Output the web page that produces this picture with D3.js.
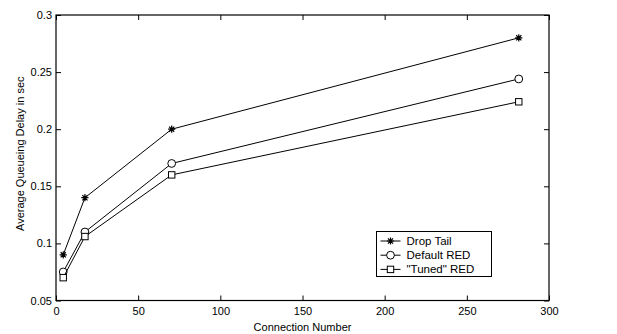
<!DOCTYPE html>
<html>
<head>
<meta charset="utf-8">
<script src="https://cdn.jsdelivr.net/npm/d3@7"></script>
<style>
  html, body { margin: 0; padding: 0; background: #fff; }
  svg { display: block; }
  text { font-family: "Liberation Sans", Arial, sans-serif; fill: #000; }
</style>
</head>
<body>
<script>
// Connection counts (x positions) and average queueing delay per scheme
const connections = [4.4, 17.6, 70.4, 281.6];
const dropTail   = [0.09, 0.14, 0.2, 0.28];
const defaultRED = [0.075, 0.11, 0.17, 0.244];
const tunedRED   = [0.07, 0.106, 0.16, 0.224];
const seriesNames = ["Drop Tail", "Default RED", "\"Tuned\" RED"];
const seriesMarkers = ["star", "circle", "square"];
const xTicks = [0, 50, 100, 150, 200, 250, 300];
const yTicks = [0.05, 0.1, 0.15, 0.2, 0.25, 0.3];
const xLabel = "Connection Number";
const yLabel = "Average Queueing Delay in sec";

const W = 617, H = 334;
const plot = { left: 56, top: 15, right: 549, bottom: 300.5 };

const svg = d3.select("body").append("svg").attr("width", W).attr("height", H);

const x = d3.scaleLinear().domain([0, 300]).range([plot.left, plot.right]);
const y = d3.scaleLinear().domain([0.05, 0.3]).range([plot.bottom, plot.top]);

const tickLen = 5;
const fmtY = d => d3.format("")(+d.toFixed(2));

// Axes with inward ticks on all four sides
svg.append("g").attr("transform", `translate(0,${plot.bottom})`)
  .call(d3.axisBottom(x).tickValues(xTicks).tickSize(-tickLen).tickPadding(7).tickFormat(d3.format("d")));
svg.append("g").attr("transform", `translate(0,${plot.top})`)
  .call(d3.axisTop(x).tickValues(xTicks).tickSize(-tickLen).tickFormat(""));
svg.append("g").attr("transform", `translate(${plot.left},0)`)
  .call(d3.axisLeft(y).tickValues(yTicks).tickSize(-tickLen).tickPadding(4).tickFormat(fmtY));
svg.append("g").attr("transform", `translate(${plot.right},0)`)
  .call(d3.axisRight(y).tickValues(yTicks).tickSize(-tickLen).tickFormat(""));

svg.selectAll(".domain").remove();
svg.selectAll(".tick line").attr("stroke", "#000").attr("stroke-width", 1);
svg.selectAll(".tick text").attr("font-size", 11).attr("font-family", "Liberation Sans, Arial, sans-serif");

svg.append("rect")
  .attr("x", plot.left).attr("y", plot.top)
  .attr("width", plot.right - plot.left).attr("height", plot.bottom - plot.top)
  .attr("fill", "none").attr("stroke", "#000").attr("stroke-width", 1.2);

// Axis titles
svg.append("text")
  .attr("x", (plot.left + plot.right) / 2).attr("y", 331)
  .attr("text-anchor", "middle").attr("font-size", 11).text(xLabel);
svg.append("text")
  .attr("transform", `translate(24,${(plot.top + plot.bottom) / 2 - 4}) rotate(-90)`)
  .attr("text-anchor", "middle").attr("font-size", 11).text(yLabel);

// Marker drawing
function drawMarker(g, type, cx, cy) {
  if (type === "star") {
    const r = 3.6, d = r * 0.72;
    const p = `M${cx - r},${cy}L${cx + r},${cy}M${cx},${cy - r}L${cx},${cy + r}` +
              `M${cx - d},${cy - d}L${cx + d},${cy + d}M${cx - d},${cy + d}L${cx + d},${cy - d}`;
    g.append("path").attr("d", p).attr("stroke", "#000").attr("stroke-width", 1.2).attr("fill", "none");
  } else if (type === "circle") {
    g.append("circle").attr("cx", cx).attr("cy", cy).attr("r", 3.9)
      .attr("fill", "#fff").attr("stroke", "#000").attr("stroke-width", 1);
  } else {
    g.append("rect").attr("x", cx - 3.2).attr("y", cy - 3.2).attr("width", 6.4).attr("height", 6.4)
      .attr("fill", "#fff").attr("stroke", "#000").attr("stroke-width", 1);
  }
}

const allSeries = [dropTail, defaultRED, tunedRED];
const line = d3.line().x(d => x(d[0])).y(d => y(d[1]));

allSeries.forEach((vals, i) => {
  const pts = connections.map((c, j) => [c, vals[j]]);
  const g = svg.append("g");
  g.append("path").attr("d", line(pts)).attr("fill", "none").attr("stroke", "#000").attr("stroke-width", 1);
  pts.forEach(p => drawMarker(g, seriesMarkers[i], x(p[0]), y(p[1])));
});

// Legend
const leg = { x: 376.5, y: 231.5, w: 115, h: 45 };
const lg = svg.append("g");
lg.append("rect").attr("x", leg.x).attr("y", leg.y).attr("width", leg.w).attr("height", leg.h)
  .attr("fill", "#fff").attr("stroke", "#000").attr("stroke-width", 1);
seriesNames.forEach((name, i) => {
  const cy = leg.y + 9.5 + i * 14.2;
  lg.append("line").attr("x1", leg.x + 4).attr("x2", leg.x + 24).attr("y1", cy).attr("y2", cy)
    .attr("stroke", "#000").attr("stroke-width", 1);
  drawMarker(lg, seriesMarkers[i], leg.x + 14, cy);
  lg.append("text").attr("x", leg.x + 30).attr("y", cy + 4).attr("font-size", 11.5).text(name);
});
</script>
</body>
</html>
